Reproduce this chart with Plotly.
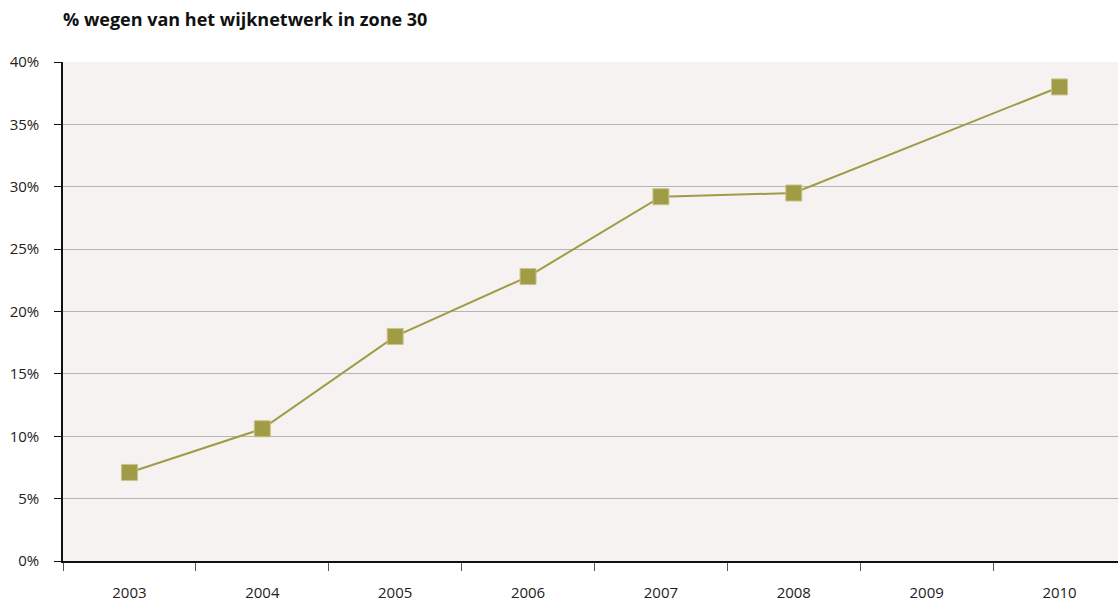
import plotly.graph_objects as go

# Share of neighbourhood roads in 30 km/h zones, per year (no figure for 2009)
years = ["2003", "2004", "2005", "2006", "2007", "2008", "2009", "2010"]
share_pct = [7.1, 10.6, 18.0, 22.8, 29.2, 29.5, None, 38.0]

y_ticks = [0, 5, 10, 15, 20, 25, 30, 35, 40]
y_tick_labels = ["0%", "5%", "10%", "15%", "20%", "25%", "30%", "35%", "40%"]

olive = "#a09b45"
font_family = "Open Sans, Noto Sans, DejaVu Sans, sans-serif"

fig = go.Figure(
    go.Scatter(
        x=years,
        y=share_pct,
        mode="lines+markers",
        connectgaps=True,
        line=dict(color=olive, width=2),
        marker=dict(symbol="square", size=16, color=olive,
                    line=dict(color="#c8c48a", width=1)),
        hoverinfo="x+y",
    )
)

fig.update_layout(
    width=1118,
    height=606,
    margin=dict(l=63, r=0, t=62, b=45),
    paper_bgcolor="white",
    plot_bgcolor="#f6f2f1",
    showlegend=False,
    font=dict(family=font_family, color="#222222", size=15),
    title=dict(
        text="<b>% wegen van het wijknetwerk in zone 30</b>",
        xref="container", x=63 / 1118, xanchor="left",
        yref="container", y=1 - 20 / 606, yanchor="middle",
        font=dict(family=font_family, size=18, color="#111111"),
    ),
)

fig.update_xaxes(
    type="category",
    range=[-0.5, 7.44],
    tickson="boundaries",
    ticks="outside",
    ticklen=8,
    tickwidth=1,
    tickcolor="#555555",
    showline=True,
    linecolor="#111111",
    linewidth=1.5,
    showgrid=False,
    ticklabelstandoff=17,
    tickfont=dict(size=15, color="#222222"),
)

fig.update_yaxes(
    range=[0, 40],
    tickvals=y_ticks,
    ticktext=y_tick_labels,
    ticks="outside",
    ticklen=7,
    tickcolor="#111111",
    showline=True,
    linecolor="#111111",
    linewidth=1.5,
    showgrid=True,
    gridcolor="#b4b4b4",
    gridwidth=1,
    zeroline=False,
    ticklabelstandoff=12,
    tickfont=dict(size=15, color="#222222"),
)

fig.write_html("out.html")
